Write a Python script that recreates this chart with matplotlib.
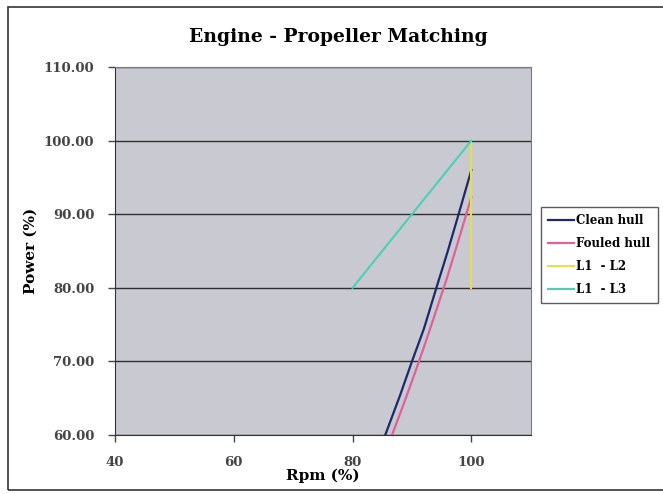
import matplotlib
matplotlib.use("Agg")
import matplotlib.pyplot as plt
from matplotlib.patches import Rectangle

plt.rcParams["font.family"] = ["DejaVu Serif"]

# data
clean_rpm = [85.5, 88, 90, 92, 94, 96, 98, 100]
clean_power = [60.0, 65.4, 70.0, 74.4, 79.7, 84.9, 90.4, 96.0]
fouled_rpm = [86.5, 88, 90, 92, 94, 96, 98, 100]
fouled_power = [59.7, 62.9, 67.3, 71.9, 76.7, 81.6, 86.9, 92.3]
l1l2_rpm = [100, 100]
l1l2_power = [80, 100]
l1l3_rpm = [80, 100]
l1l3_power = [80, 100]

yticks = [60, 70, 80, 90, 100, 110]
xticks = [40, 60, 80, 100]

fig = plt.figure(figsize=(6.63, 4.94), dpi=100)
fig.patch.set_facecolor("white")
fig.patches.append(Rectangle((8 / 663, 4 / 494), 1.0, 1 - 11 / 494,
                             transform=fig.transFigure, fill=False,
                             edgecolor="#333333", linewidth=1.2))

ax = fig.add_axes([0.1735, 0.1194, 0.627, 0.745])
ax.set_facecolor("#c9cad1")

ax.plot(clean_rpm, clean_power, color="#1c2a6b", lw=1.6, label="Clean hull")
ax.plot(fouled_rpm, fouled_power, color="#e0609a", lw=1.6, label="Fouled hull")
ax.plot(l1l2_rpm, l1l2_power, color="#e4e04a", lw=1.5, label="L1  - L2")
ax.plot(l1l3_rpm, l1l3_power, color="#4ccfb8", lw=1.5, label="L1  - L3")

ax.set_xlim(40, 110)
ax.set_ylim(60, 110)
ax.set_xticks(xticks)
ax.set_yticks(yticks)
ax.set_yticklabels([f"{v:.2f}" for v in yticks])
ax.tick_params(labelsize=9.5, colors="#444444", length=5, width=1)
ax.tick_params(axis="x", pad=10)
ax.tick_params(axis="y", pad=10)
for lab in ax.get_xticklabels() + ax.get_yticklabels():
    lab.set_fontweight("semibold")
ax.grid(axis="y", color="#2e2e2e", lw=1.0)
ax.set_axisbelow(True)
for s in ax.spines.values():
    s.set_color("#7a7a7a")
ax.spines["left"].set_color("#333333")
ax.spines["bottom"].set_color("#333333")

ax.set_xlabel("Rpm (%)", fontsize=11, fontweight="bold", labelpad=0)
ax.set_ylabel("Power (%)", fontsize=11, fontweight="bold", labelpad=4)
fig.text(0.510, 0.925, "Engine - Propeller Matching", ha="center", va="center",
         fontsize=13.5, fontweight="bold")

leg = fig.legend(loc="upper left", bbox_to_anchor=(541 / 663, 1 - 207 / 494),
                 frameon=True, fancybox=False, edgecolor="#333333",
                 handlelength=2.2, handletextpad=0.2, borderpad=0.6,
                 labelspacing=0.85, borderaxespad=0,
                 prop={"weight": "bold", "size": 8.5})
leg.get_frame().set_linewidth(1.0)

fig.savefig("out.png", dpi=100)
plt.close()
